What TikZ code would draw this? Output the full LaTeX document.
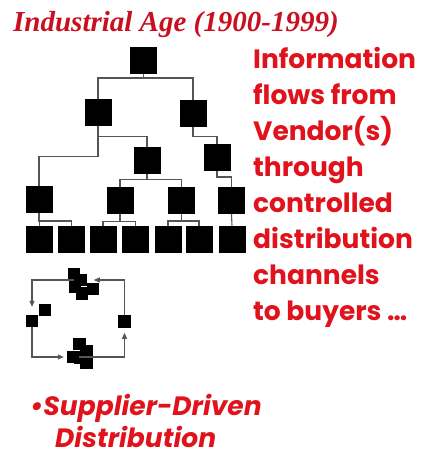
\documentclass[tikz,border=0pt]{standalone}
\usepackage{fontspec}
\newfontfamily\gothic{Poppins}
\newfontfamily\titlefont{Liberation Serif}
\usetikzlibrary{arrows.meta}
\definecolor{textred}{RGB}{224,18,28}
\definecolor{titlered}{RGB}{200,16,32}
\definecolor{wirecol}{RGB}{85,85,85}
\begin{document}
\begin{tikzpicture}[x=1pt,y=-1pt,
  box/.style={fill=black, minimum size=27pt, inner sep=0pt, outer sep=0pt},
  chip/.style={fill=black, minimum size=12.5pt, inner sep=0pt, outer sep=0pt},
  wire/.style={draw=wirecol, line width=1.1pt},
  flow/.style={wire, -{Triangle[length=6pt,width=5pt]}},
  rline/.style={font=\gothic\bfseries\fontsize{26.5}{26.5}\selectfont, text=textred, anchor=base west, inner sep=0pt},
  bline/.style={font=\gothic\bfseries\itshape\fontsize{26.5}{26.5}\selectfont, text=textred, anchor=base west, inner sep=0pt}
]
\fill[white] (0,0) rectangle (432,460);
\useasboundingbox (0,0) rectangle (432,460);

% title
\node[font=\titlefont\bfseries\itshape\fontsize{29}{29}\selectfont, text=titlered,
      anchor=base west, inner sep=0pt] (title) at (13,32) {Industrial Age (1900-1999)};

% hierarchy of boxes
\node[box] (t) at (143.5,60.5) {};
\node[box] (a) at (98,112) {};
\node[box] (b) at (193,113) {};
\node[box] (c) at (147,160) {};
\node[box] (d) at (217,157.5) {};
\node[box] (e) at (39,199.5) {};
\node[box] (f) at (120,200) {};
\node[box] (g) at (181.5,200.5) {};
\node[box] (h) at (231.5,200.5) {};
\foreach \x [count=\i] in {39.5,71.5,103,135.5,168,199,232}
  \node[box] (k\i) at (\x,239) {};

\draw[wire] (t.south) -- ++(0,4) -| (a.north);
\draw[wire] (t.south) -- ++(0,4) -| (b.north);
\draw[wire] (a.south) -- ++(0,11) -| (c.north);
\draw[wire] (a.south) -- ++(0,31) -| (e.north);
\draw[wire] (b.south) -- ++(0,10) -| (d.north);
\draw[wire] (c.south) -- ++(0,6) -| (f.north);
\draw[wire] (c.south) -- ++(0,6) -| (g.north);
\draw[wire] (d.south) -- ++(0,6) -| (h.north);
\draw[wire] (e.south) -- ++(0,8) -| (k1.north);
\draw[wire] (e.south) -- ++(0,8) -| (k2.north);
\draw[wire] (f.south) -- ++(0,8) -| (k3.north);
\draw[wire] (f.south) -- ++(0,8) -| (k4.north);
\draw[wire] (g.south) -- ++(0,7) -| (k5.north);
\draw[wire] (g.south) -- ++(0,7) -| (k6.north);
\draw[wire] (h.south) -- (k7.north);

% distribution cycle
\node[chip] (q1) at (74,274.5) {};
\node[chip] (q2) at (80.5,280) {};
\node[chip] (q3) at (75,287) {};
\node[chip] (q4) at (93,289) {};
\node[chip] (q5) at (82,293.5) {};
\node[chip] (m1) at (45,310) {};
\node[chip] (m2) at (32,321) {};
\node[chip] (n)  at (124.5,321.5) {};
\node[chip] (p1) at (79.5,344) {};
\node[chip] (p2) at (73,357) {};
\node[chip] (p3) at (86.5,351) {};
\node[chip] (p4) at (80,357.5) {};
\node[chip] (p5) at (86.5,363) {};

\draw[flow, shorten >=7pt] (n.north) |- (q2.east);
\draw[flow, shorten >=8pt] (q2.west) -| (m2.north);
\draw[flow, shorten >=3pt] (m2.south) |- (p2.west);
\draw[flow, shorten >=5pt] (p2.east) -| (n.south);

% right-hand text
\foreach \t [count=\i] in {Information,flows from,Vendor(s),through,controlled,distribution,channels,to buyers …}
  \node[rline] (r\i) at (253,{68+36*(\i-1)}) {\t};

% bottom text
\node[bline] (s1) at (30,415) {•Supplier-Driven};
\node[bline] (s2) at (55,447) {Distribution};
\end{tikzpicture}
\end{document}
